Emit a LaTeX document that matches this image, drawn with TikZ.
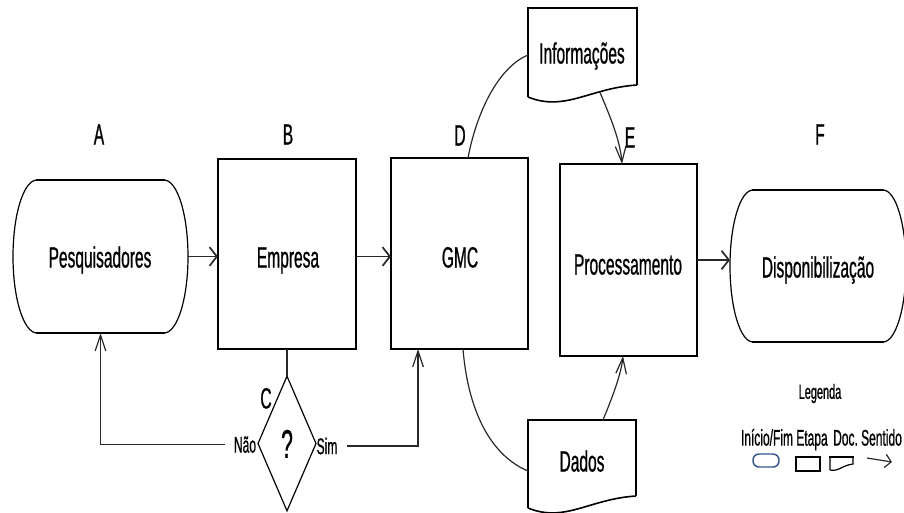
\documentclass[tikz,border=0pt]{standalone}
\usepackage{fontspec}
\setmainfont{Liberation Sans}[FakeStretch=0.53, FakeBold=0.7]
\usetikzlibrary{arrows.meta,calc,fit,shapes.geometric}

\definecolor{legblue}{RGB}{52,85,140}
\definecolor{ink}{RGB}{40,40,40}

% terminal (start/end) outline around a fitted frame node: #1 node, #2 horizontal radius of the ends
\newcommand\termoutline[2]{%
  \draw[side]
    ($(#1.north west)+(#2,0)$) -- ($(#1.north east)+(-#2,0)$)
    .. controls ($(#1.north east)+(-0.4477*#2,0)$) and ($(#1.north east)!0.4477!(#1.east)$) .. (#1.east)
    .. controls ($(#1.south east)!0.4477!(#1.east)$) and ($(#1.south east)+(-0.4477*#2,0)$) .. ($(#1.south east)+(-#2,0)$)
    -- ($(#1.south west)+(#2,0)$)
    .. controls ($(#1.south west)+(0.4477*#2,0)$) and ($(#1.south west)!0.4477!(#1.west)$) .. (#1.west)
    .. controls ($(#1.north west)!0.4477!(#1.west)$) and ($(#1.north west)+(0.4477*#2,0)$) .. cycle;
  \draw[rim] ($(#1.north west)+(#2,0)$) -- ($(#1.north east)+(-#2,0)$)
             ($(#1.south west)+(#2,0)$) -- ($(#1.south east)+(-#2,0)$);
}

\tikzset{
  every node/.style={inner sep=0pt, outer sep=0pt},
  frame/.style={inner sep=0pt, fit={#1}},
  side/.style={draw=black, line width=0.9pt},
  rim/.style={draw=black, line width=1.7pt, line cap=rect},
  wave/.style={draw=black, line width=1.2pt},
  conn/.style={draw=ink, line width=0.9pt},
  hconn/.style={draw=ink, line width=1.3pt},
  harrow/.style={-{Straight Barb[length=5.5pt,width=14pt]}},
  varrow/.style={-{Straight Barb[length=12pt,width=8pt]}},
  big/.style={font=\fontsize{22pt}{26pt}\selectfont, text height=15.75pt, text depth=0pt},
  mid/.style={font=\fontsize{17pt}{20pt}\selectfont, text height=12.2pt, text depth=0pt},
  small/.style={font=\fontsize{15.5pt}{18pt}\selectfont, text height=11pt, text depth=0pt},
}

\begin{document}
\begin{tikzpicture}[x=0.75pt, y=-0.75pt]
\useasboundingbox (0,0) rectangle (904,512);

% ---- frames of the flow elements
\node[frame={(13,180) (188,333)}] (pesq) {};
\node[frame={(218,159) (356,349)}] (emp) {};
\node[frame={(391,158) (528,349)}] (gmc) {};
\node[frame={(560,164) (697,356)}] (proc) {};
\node[frame={(730,190) (906,342)}] (disp) {};
\node[frame={(528,8) (637,97)}] (info) {};
\node[frame={(528,420) (636,508)}] (dados) {};

% ---- start / end terminals
\termoutline{pesq}{24}
\termoutline{disp}{23}

% ---- process steps
\foreach \n in {emp,gmc,proc}{
  \draw[side] (\n.north west) rectangle (\n.south east);
  \draw[rim] (\n.north west) -- (\n.north east) (\n.south west) -- (\n.south east);
}

% ---- documents
\draw[side] (info.south west) -- (info.north west) -- (info.north east) -- ($(info.south east)+(0,-12)$);
\draw[rim] (info.north west) -- (info.north east);
\draw[wave] ($(info.south east)+(0,-12)$) .. controls ($(info.south east)+(-47,-9)$) and ($(info.south west)+(37,15)$) .. (info.south west) coordinate[pos=0.3] (infoout);

\draw[side] (dados.south west) -- (dados.north west) -- (dados.north east) -- ($(dados.south east)+(0,-12)$);
\draw[rim] (dados.north west) -- (dados.north east);
\draw[wave] ($(dados.south east)+(0,-12)$) .. controls ($(dados.south east)+(-47,-9)$) and ($(dados.south west)+(37,15)$) .. (dados.south west);

% ---- decision
\node[diamond, side, minimum width=43.5pt, minimum height=101pt,
      font=\fontsize{30pt}{34pt}\selectfont, text height=21.5pt, text depth=0pt] (dec) at (287,443.5) {?};

% ---- texts
\node[big] (tPesq) at (100,257) {Pesquisadores};
\node[big] (tEmp) at (288,257) {Empresa};
\node[big] (tGmc) at (460,257) {GMC};
\node[big] (tProc) at (628,264) {Processamento};
\node[big] (tDisp) at (818,267) {Disponibilização};
\node[big] (tInfo) at (582,53) {Informações};
\node[big] (tDados) at (582,461) {Dados};

\node[big] (lA) at (99,134) {A};
\node[big] (lB) at (288,134) {B};
\node[big] (lC) at (266,398) {C};
\node[big] (lD) at (460,135) {D};
\node[big] (lE) at (630,137) {E};
\node[big] (lF) at (820,134) {F};

\node[mid, inner xsep=7pt] (nao) at (245,444.5) {Não};
\node[mid, inner xsep=7pt] (sim) at (327,446) {Sim};

% ---- connectors
\draw[hconn,harrow] (pesq.east) -- (pesq.east -| emp.west);
\draw[hconn,harrow] (pesq.east -| emp.east) -- (pesq.east -| gmc.west);
\draw[hconn,harrow] (proc.east) -- (proc.east -| disp.west);

\draw[conn] (emp.south) -- (dec.north);
\draw[conn,varrow] (nao.west) -| (pesq.south);
\draw[conn,varrow] (sim.east) -| ($(gmc.south west)+(27,0)$);

\draw[conn] ($(gmc.north west)+(77,0)$) .. controls (476,115) and (497,68) .. ($(info.north west)+(0,47)$);
\draw[conn,varrow] (infoout) .. controls (608,112) and (620,138) .. ($(proc.north west)+(62,0)$);
\draw[conn] ($(gmc.south west)+(72,0)$) .. controls (468,410) and (490,455) .. ($(dados.north west)+(0,51)$);
\draw[conn,varrow] ($(dados.north west)+(75,0)$) .. controls (612,398) and (621,375) .. ($(proc.south west)+(63,0)$);

% ---- legend
\node[small] (legTitle) at (820,391.5) {Legenda};
\node[mid] (legTxtA) at (767,437.5) {Início/Fim};
\node[mid] (legTxtB) at (812,437.5) {Etapa};
\node[mid] (legTxtC) at (845.5,437.5) {Doc.};
\node[mid] (legTxtD) at (881.5,437.5) {Sentido};

\node[draw=legblue, line width=1.1pt, rounded corners=4.5pt, fit={(753,454) (779,467)}] (legTerm) {};
\node[frame={(796,457) (820,471)}] (legStep) {};
\draw[side] (legStep.north west) rectangle (legStep.south east);
\draw[rim] (legStep.north west) -- (legStep.north east) (legStep.south west) -- (legStep.south east);
\node[frame={(830,457) (853,470)}] (legDoc) {};
\draw[side] (legDoc.south west) -- (legDoc.north west) -- (legDoc.north east) -- ($(legDoc.south east)+(0,-6)$)
  .. controls ($(legDoc.south east)+(-10,-5)$) and ($(legDoc.south west)+(8,2)$) .. (legDoc.south west);
\draw[rim] (legDoc.north west) -- (legDoc.north east);
\coordinate (legFrom) at (867,458);
\coordinate (legTo) at (892,462);
\draw[conn,-{Straight Barb[length=4.5pt,width=10pt]}] (legFrom) -- (legTo);
\end{tikzpicture}
\end{document}
